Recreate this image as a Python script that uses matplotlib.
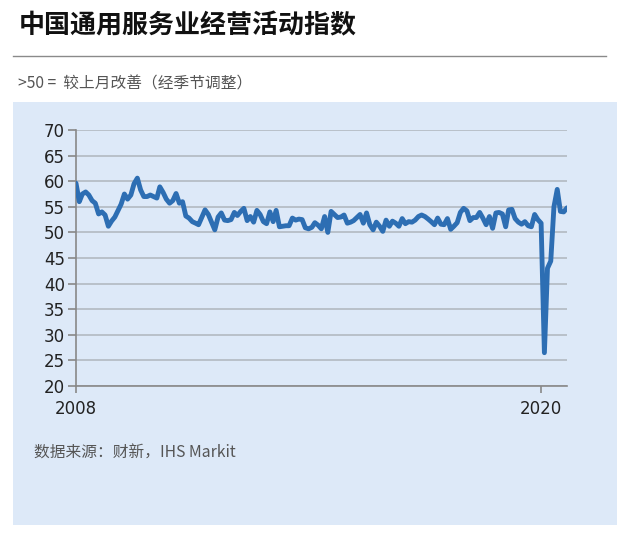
import matplotlib
matplotlib.use("Agg")
import matplotlib.pyplot as plt
import matplotlib.dates as mdates
from matplotlib.patches import Rectangle
import pandas as pd

plt.rcParams["font.family"] = ["Noto Sans CJK SC", "DejaVu Sans"]

# 中国通用服务业经营活动指数（月度，2008-01 ~ 2020-09）
pmi_2008 = [59.6, 56.0, 57.5, 57.9, 57.3, 56.2, 55.7, 53.6, 54.0, 53.4, 51.2, 52.2]
pmi_2009 = [53.0, 54.3, 55.5, 57.5, 56.5, 57.3, 59.5, 60.6, 58.3, 57.0, 57.0, 57.3]
pmi_2010 = [57.0, 56.7, 58.9, 57.8, 56.5, 55.7, 56.2, 57.6, 55.7, 56.0, 53.2, 52.8]
pmi_2011 = [52.1, 51.8, 51.5, 53.0, 54.4, 53.5, 52.0, 50.5, 53.0, 53.8, 52.4, 52.3]
pmi_2012 = [52.5, 53.9, 53.3, 54.1, 54.7, 52.3, 53.1, 52.0, 54.3, 53.5, 52.1, 51.7]
pmi_2013 = [54.0, 52.1, 54.3, 51.1, 51.2, 51.3, 51.3, 52.8, 52.4, 52.6, 52.5, 50.9]
pmi_2014 = [50.7, 51.0, 51.9, 51.4, 50.7, 53.1, 50.0, 54.1, 53.5, 52.9, 53.0, 53.4]
pmi_2015 = [51.8, 52.0, 52.3, 52.9, 53.5, 51.8, 53.8, 51.5, 50.5, 52.0, 51.2, 50.2]
pmi_2016 = [52.4, 51.2, 52.2, 51.8, 51.2, 52.7, 51.7, 52.1, 52.0, 52.4, 53.1, 53.4]
pmi_2017 = [53.1, 52.6, 52.1, 51.5, 52.8, 51.6, 51.5, 52.7, 50.6, 51.2, 51.9, 53.9]
pmi_2018 = [54.7, 54.2, 52.3, 52.9, 52.9, 53.9, 52.8, 51.5, 53.1, 50.8, 53.8, 53.9]
pmi_2019 = [53.6, 51.1, 54.4, 54.5, 52.7, 52.0, 51.6, 52.1, 51.3, 51.1, 53.5, 52.5]
pmi_2020 = [51.8, 26.5, 43.0, 44.4, 55.0, 58.4, 54.1, 54.0, 54.8]

values = (pmi_2008 + pmi_2009 + pmi_2010 + pmi_2011 + pmi_2012 + pmi_2013
          + pmi_2014 + pmi_2015 + pmi_2016 + pmi_2017 + pmi_2018 + pmi_2019
          + pmi_2020)
months = pd.date_range("2008-01-01", periods=len(values), freq="MS")

y_ticks = list(range(20, 75, 5))
x_tick_years = ["2008", "2020"]

title = "中国通用服务业经营活动指数"
subtitle = ">50 =  较上月改善（经季节调整）"
source = "数据来源：财新，IHS Markit"

panel_color = "#dde9f8"
line_color = "#2d6eb3"
grid_color = "#b9c0c9"
text_gray = "#555555"

fig = plt.figure(figsize=(6.39, 5.4), dpi=100)
W, H = 639, 540

# 浅蓝背景面板
fig.add_artist(Rectangle((13 / W, 1 - 525 / H), 604 / W, 423 / H,
                         transform=fig.transFigure, facecolor=panel_color,
                         edgecolor="none", zorder=-5))
# 标题下分隔线
fig.add_artist(plt.Line2D([13 / W, 606 / W], [1 - 56 / H, 1 - 56 / H],
                          transform=fig.transFigure, color="#8a8a8a", lw=1.0))

fig.text(19 / W, 1 - 26 / H, title, fontsize=18.7, fontweight="bold",
         color="#111111", va="center", ha="left")
fig.text(18 / W, 1 - 84 / H, subtitle, fontsize=11.3, color=text_gray,
         va="center", ha="left")
fig.text(34 / W, 1 - 453 / H, source, fontsize=11.3, color=text_gray,
         va="center", ha="left")

ax = fig.add_axes([76 / W, 1 - 386 / H, (567 - 76) / W, (386 - 130) / H])
ax.set_zorder(2)
ax.set_facecolor("none")
ax.plot(months, values, color=line_color, lw=3.5, solid_joinstyle="round",
        solid_capstyle="round", zorder=3)

ax.set_ylim(20, 70)
ax.set_yticks(y_ticks)
ax.set_xlim(pd.Timestamp("2008-01-01"), months[-1])
ax.set_xticks([pd.Timestamp(f"{y}-01-01") for y in x_tick_years])
ax.xaxis.set_major_formatter(mdates.DateFormatter("%Y"))

ax.yaxis.grid(True, color=grid_color, lw=1.4)
ax.set_axisbelow(True)
for side in ["top", "right"]:
    ax.spines[side].set_visible(False)
for side in ["left", "bottom"]:
    ax.spines[side].set_color("#888888")
    ax.spines[side].set_linewidth(1.2)

ax.tick_params(axis="y", direction="out", length=6, width=1.2, color="#888888",
               labelsize=12, labelcolor="#222222", pad=2)
ax.tick_params(axis="x", direction="out", length=5, width=1.2, color="#888888",
               labelsize=12, labelcolor="#222222", pad=5)
for lbl in ax.get_xticklabels() + ax.get_yticklabels():
    lbl.set_fontfamily("DejaVu Sans")

fig.savefig("out.png", dpi=100)
